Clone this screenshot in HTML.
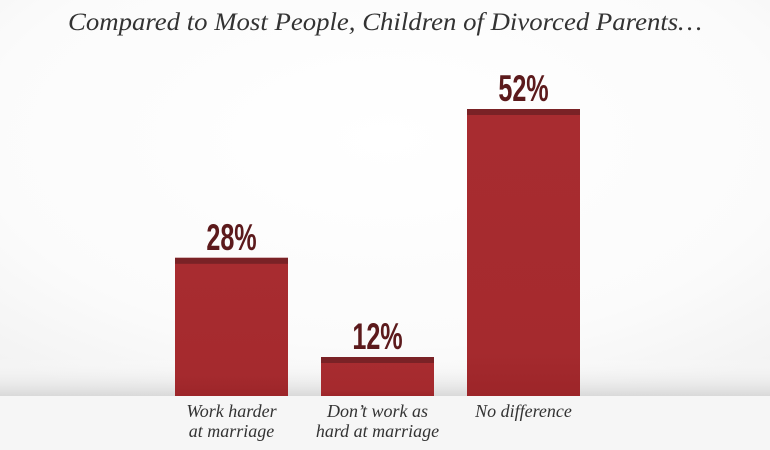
<!DOCTYPE html>
<html><head><meta charset="utf-8"><style>
body{margin:0;width:770px;height:450px;overflow:hidden;background:#fff;}
svg{display:block}
</style></head><body>
<svg id="chart" width="770" height="450">
<defs>
<radialGradient id="bg" cx="0.5" cy="0.35" r="0.75">
<stop offset="0" stop-color="#ffffff"/><stop offset="0.7" stop-color="#fbfbfb"/><stop offset="1" stop-color="#f3f3f3"/></radialGradient>
<linearGradient id="shadow" x1="0" y1="0" x2="0" y2="1">
<stop offset="0" stop-color="#ffffff" stop-opacity="0"/><stop offset="1" stop-color="#d9d9d9"/></linearGradient>
<linearGradient id="barg" x1="0" y1="0" x2="0" y2="1">
<stop offset="0" stop-color="#a82c30"/><stop offset="0.85" stop-color="#a52a2e"/><stop offset="1" stop-color="#9c2529"/></linearGradient>
</defs>
<rect width="770" height="396" fill="url(#bg)"/>
<rect y="358" width="770" height="38" fill="url(#shadow)"/>
<rect y="396" width="770" height="54" fill="#f6f6f6"/>
<text x="68" y="30" textLength="634" lengthAdjust="spacingAndGlyphs" font-family="'Liberation Serif',serif" font-style="italic" font-size="25" fill="#333">Compared to Most People, Children of Divorced Parents…</text>
<g id="bars"></g>
</svg>
<script>
const categories=[["Work harder","at marriage"],["Don’t work as","hard at marriage"],["No difference"]];
const values=[28,12,52];
const valueLabels=["28%","12%","52%"];
const base=396, x0=175, step=146, bw=113;
function y(v){return base-(6.2*v-35.4);}
const g=document.getElementById('bars');
const ns="http://www.w3.org/2000/svg";
values.forEach((v,i)=>{
  const x=x0+i*step, top=y(v);
  const r=document.createElementNS(ns,'rect');
  r.setAttribute('x',x);r.setAttribute('y',top);r.setAttribute('width',bw);r.setAttribute('height',base-top);r.setAttribute('fill','url(#barg)');
  
  
  g.appendChild(r);
  const c=document.createElementNS(ns,'rect');
  c.setAttribute('x',x);c.setAttribute('y',top);c.setAttribute('width',bw);c.setAttribute('height',6);c.setAttribute('fill','#7a2226');
  
  
  g.appendChild(c);
  const t=document.createElementNS(ns,'text');
  t.setAttribute('x',0);t.setAttribute('y',0);
  t.setAttribute('transform','translate('+(x+bw/2)+','+(top-8)+') scale(0.68,1)');
  t.setAttribute('text-anchor','middle');t.setAttribute('font-family',"'Liberation Sans Narrow','Liberation Sans',sans-serif");
  t.setAttribute('font-weight','bold');t.setAttribute('font-size','37');t.setAttribute('fill','#5c1a1c');
  t.textContent=valueLabels[i];
  
  
  g.appendChild(t);
  categories[i].forEach((line,j)=>{
    const l=document.createElementNS(ns,'text');
    l.setAttribute('x',x+bw/2);l.setAttribute('y',417+j*20);
    l.setAttribute('text-anchor','middle');l.setAttribute('font-family',"'Liberation Serif',serif");
    l.setAttribute('font-style','italic');l.setAttribute('font-size','18');l.setAttribute('fill','#333');
    l.textContent=line;
    
    
    g.appendChild(l);
  });
});
</script>
</body></html>
